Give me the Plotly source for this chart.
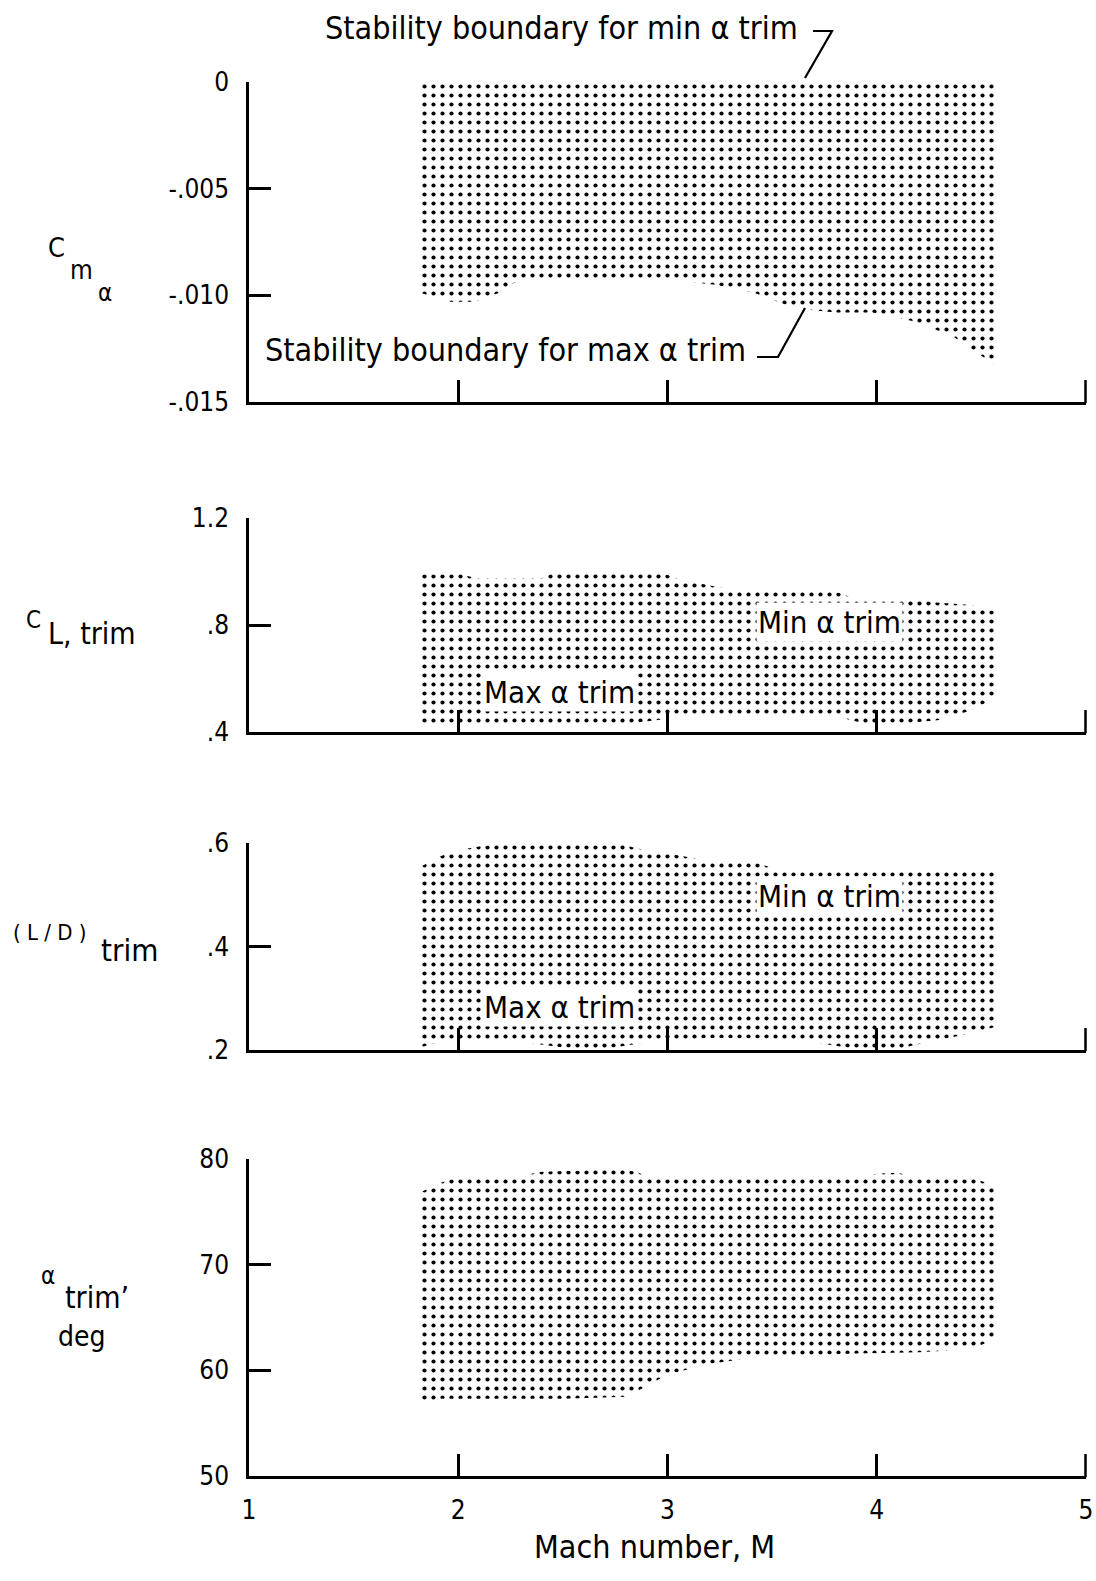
import plotly.graph_objects as go

# ---------------------------------------------------------------------------
# Trim envelope vs Mach number (four stacked panels sharing the Mach axis)
# ---------------------------------------------------------------------------

# Mach axis
mach_ticks = [1, 2, 3, 4, 5]
mach_ticktext = ["1", "2", "3", "4", "5"]

# Panel 1: C_m_alpha band (min-alpha-trim boundary on top, max-alpha-trim below)
cm_top_mach = [1.825, 4.57]
cm_top = [0.0, 0.0]
cm_bot_mach = [1.825, 1.96, 2.08, 2.19, 2.27, 2.47, 2.75, 3.04, 3.23, 3.42,
               3.61, 3.80, 3.98, 4.17, 4.36, 4.57]
cm_bot = [-0.0099, -0.0103, -0.0103, -0.0099, -0.0094, -0.0093, -0.0092,
          -0.0093, -0.0095, -0.0099, -0.0106, -0.0108, -0.0108, -0.0112,
          -0.0119, -0.0133]
cm_ticks = [0, -0.005, -0.010, -0.015]
cm_ticktext = ["0", "-.005", "-.010", "-.015"]

# Panel 2: C_L,trim band
cl_top_mach = [1.825, 2.02, 2.08, 2.40, 2.47, 2.96, 3.04, 3.19, 3.36, 3.80,
               3.89, 4.17, 4.27, 4.45, 4.57]
cl_top = [0.99, 0.99, 0.975, 0.975, 1.0, 1.0, 0.975, 0.95, 0.925, 0.925,
          0.90, 0.90, 0.885, 0.875, 0.85]
cl_bot_mach = [1.825, 2.0, 2.4, 2.8, 3.0, 3.2, 3.5, 3.8, 3.95, 4.1, 4.3,
               4.45, 4.57]
cl_bot = [0.435, 0.426, 0.425, 0.43, 0.45, 0.457, 0.465, 0.46, 0.43, 0.43,
          0.445, 0.48, 0.53]
cl_ticks = [0.4, 0.8, 1.2]
cl_ticktext = [".4", ".8", "1.2"]

# Panel 3: (L/D)trim band
ld_top_mach = [1.825, 1.91, 2.0, 2.1, 2.29, 2.47, 2.7, 2.85, 3.04, 3.23,
               3.42, 3.51, 3.98, 4.57]
ld_top = [0.555, 0.574, 0.586, 0.593, 0.603, 0.609, 0.607, 0.59, 0.577,
          0.564, 0.562, 0.551, 0.55, 0.548]
ld_bot_mach = [1.825, 1.95, 2.3, 2.5, 2.7, 2.9, 3.2, 3.5, 3.7, 3.9, 4.1,
               4.25, 4.45, 4.57]
ld_bot = [0.206, 0.22, 0.216, 0.205, 0.202, 0.215, 0.223, 0.222, 0.215,
          0.202, 0.202, 0.216, 0.232, 0.245]
ld_ticks = [0.2, 0.4, 0.6]
ld_ticktext = [".2", ".4", ".6"]

# Panel 4: alpha_trim band, deg
al_top_mach = [1.825, 1.91, 2.0, 2.27, 2.4, 2.6, 2.7, 2.85, 2.92, 3.5, 3.9,
               4.0, 4.1, 4.2, 4.45, 4.57]
al_top = [76.9, 77.7, 78.3, 78.3, 78.8, 78.9, 79.2, 78.8, 78.2, 78.2, 78.2,
          78.6, 78.7, 78.2, 78.2, 77.5]
al_bot_mach = [1.825, 1.91, 2.2, 2.5, 2.8, 2.9, 3.0, 3.2, 3.4, 3.6, 3.9,
               4.2, 4.45, 4.57]
al_bot = [56.9, 57.3, 57.3, 57.3, 57.5, 58.5, 59.6, 60.6, 61.2, 61.4, 61.6,
          61.7, 62.0, 63.0]
al_ticks = [50, 60, 70, 80]
al_ticktext = ["50", "60", "70", "80"]

# ---------------------------------------------------------------------------
W, H = 1096, 1581
FONT = "DejaVu Sans Condensed, Liberation Sans Narrow, Arial Narrow, sans-serif"
INK = "black"
TICK_LEN = 22
LINE_W = 2.5


def px_x(px):
    return px / W


def px_y(py):
    return 1 - py / H


# panel frames in page pixels: (top, bottom)
x_left_px, x_right_px = 249, 1086
panels = [(82, 402), (518, 732), (843, 1050), (1159, 1476)]

fig = go.Figure()

bands = [
    (cm_top_mach, cm_top, cm_bot_mach, cm_bot),
    (cl_top_mach, cl_top, cl_bot_mach, cl_bot),
    (ld_top_mach, ld_top, ld_bot_mach, ld_bot),
    (al_top_mach, al_top, al_bot_mach, al_bot),
]

for i, (xt, yt, xb, yb) in enumerate(bands, start=1):
    xs = list(xt) + list(reversed(xb)) + [xt[0]]
    ys = list(yt) + list(reversed(yb)) + [yt[0]]
    fig.add_trace(go.Scatter(
        x=xs, y=ys, mode="lines", fill="toself",
        line=dict(width=0, color="rgba(0,0,0,0)"),
        fillcolor="white",
        fillpattern=dict(shape=".", fgcolor=INK, bgcolor="white",
                         size=9, solidity=0.17, fillmode="replace"),
        xaxis=f"x{i}" if i > 1 else "x",
        yaxis=f"y{i}" if i > 1 else "y",
        hoverinfo="skip", showlegend=False,
    ))

y_specs = [
    ([-0.015, 0.0], cm_ticks, cm_ticktext),
    ([0.4, 1.2], cl_ticks, cl_ticktext),
    ([0.2, 0.6], ld_ticks, ld_ticktext),
    ([50, 80], al_ticks, al_ticktext),
]

axis_common = dict(
    showline=True, linecolor=INK, linewidth=LINE_W,
    ticks="inside", ticklen=TICK_LEN, tickwidth=LINE_W, tickcolor=INK,
    showgrid=False, zeroline=False, fixedrange=True, automargin=False,
    tickfont=dict(family=FONT, size=26, color=INK),
)

layout = dict(
    width=W, height=H,
    margin=dict(l=0, r=0, t=0, b=0, autoexpand=False),
    paper_bgcolor="white", plot_bgcolor="white",
    font=dict(family=FONT, color=INK),
    showlegend=False,
)

for i, ((top_px, bot_px), (yr, tv, tt)) in enumerate(zip(panels, y_specs), start=1):
    sfx = "" if i == 1 else str(i)
    xa = dict(axis_common)
    xa.update(
        domain=[px_x(x_left_px), px_x(x_right_px)],
        range=[1, 5], tickvals=mach_ticks, ticktext=mach_ticktext,
        showticklabels=(i == 4), anchor=f"y{sfx}",
        ticklabelstandoff=9,
    )
    ya = dict(axis_common)
    ya.update(
        domain=[px_y(bot_px), px_y(top_px)],
        range=yr, tickvals=tv, ticktext=tt, anchor=f"x{sfx}",
        ticklabelstandoff=12,
    )
    layout[f"xaxis{sfx}"] = xa
    layout[f"yaxis{sfx}"] = ya

fig.update_layout(**layout)

# closing tick at the right end of every Mach axis (plotly drops edge ticks)
for top_px, bot_px in panels:
    fig.add_shape(type="line", xref="paper", yref="paper",
                  x0=px_x(x_right_px - 0.5), x1=px_x(x_right_px - 0.5),
                  y0=px_y(bot_px + LINE_W / 2), y1=px_y(bot_px - TICK_LEN),
                  line=dict(color=INK, width=LINE_W))


def page_text(text, px, py, size, xanchor="center"):
    fig.add_annotation(text=text, x=px_x(px), y=px_y(py), xref="paper",
                       yref="paper", xanchor=xanchor, yanchor="middle",
                       showarrow=False,
                       font=dict(family=FONT, size=size, color=INK))


# y-axis titles
page_text("C", 56, 247, 27)
page_text("m", 81, 270, 26)
page_text("α", 105, 293, 24)

page_text("C", 33, 620, 24)
page_text("L, trim", 92, 633, 30)

page_text("( L / D )", 50, 933, 22)
page_text("trim", 129, 950, 31)

page_text("α", 48, 1276, 24)
page_text("trim’", 97, 1297, 30)
page_text("deg", 82, 1336, 28)

# Mach axis title
page_text("Mach number, M", 654, 1547, 32)

# stability boundary call-outs on the C_m_alpha panel
page_text("Stability boundary for min α trim", 561, 28, 32)
page_text("Stability boundary for max α trim", 505, 350, 32)

leaders = [
    [(813, 31), (832, 31), (805, 78)],
    [(757, 357), (778, 357), (805, 308)],
]
for pts in leaders:
    path = "M " + " L ".join(f"{px_x(a):.5f},{px_y(b):.5f}" for a, b in pts)
    fig.add_shape(type="path", path=path, xref="paper", yref="paper",
                  line=dict(color=INK, width=2.2))

# boundary labels inside the C_L and L/D bands
for xr, yr, lo_y, hi_y in [("x2", "y2", 0.55, 0.811), ("x3", "y3", 0.283, 0.498)]:
    fig.add_annotation(text="Min α trim", x=3.775, y=hi_y, xref=xr, yref=yr,
                       showarrow=False, bgcolor="white", borderpad=1,
                       font=dict(family=FONT, size=31, color=INK))
    fig.add_annotation(text="Max α trim", x=2.483, y=lo_y, xref=xr, yref=yr,
                       showarrow=False, bgcolor="white", borderpad=1,
                       font=dict(family=FONT, size=31, color=INK))

fig.write_html("out.html")
